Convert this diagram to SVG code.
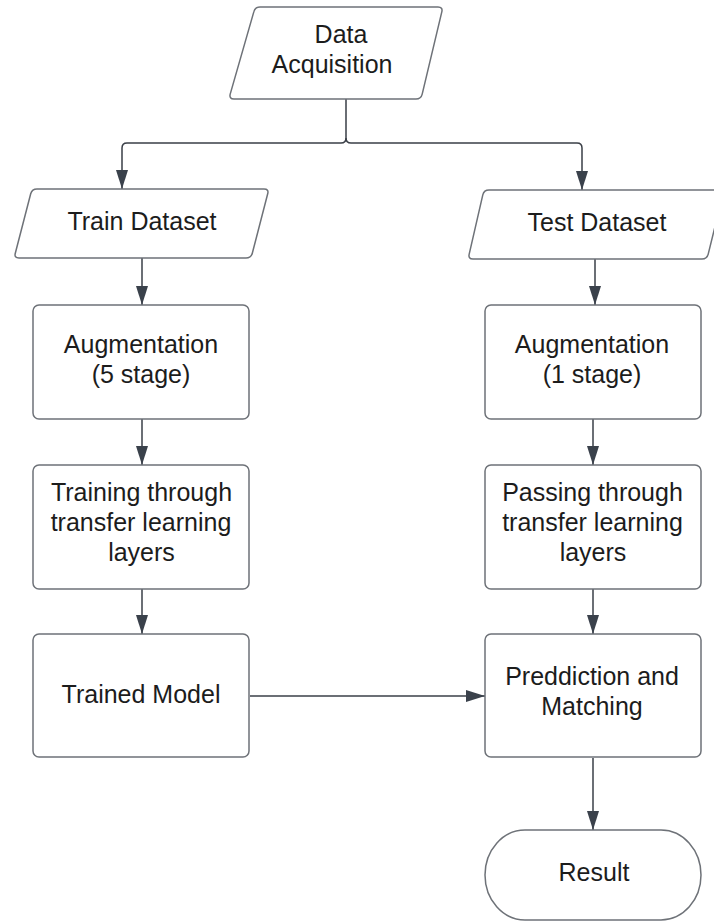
<svg xmlns="http://www.w3.org/2000/svg" width="714" height="922" viewBox="0 0 714 922">
<defs>
<style>
.shape{fill:#ffffff;stroke:#6e7278;stroke-width:1.5}
.conn{fill:none;stroke:#3a3f47;stroke-width:1.5}
.t{font-family:"Liberation Sans",Arial,sans-serif;font-size:25px;fill:#1c1c1c;text-anchor:middle}
</style>
<marker id="arr" viewBox="0 0 19 12" refX="19" refY="6" markerWidth="19" markerHeight="12" markerUnits="userSpaceOnUse" orient="auto">
<path d="M0,0 L19,6 L0,12 Z" fill="#3a414b"/>
</marker>
</defs>
<rect width="714" height="922" fill="#ffffff"/>
<g id="connectors">
<path class="conn" d="M346,99 L346,138 Q346,143 341,143 L127,143 Q122,143 122,148 L122,189" marker-end="url(#arr)"/>
<path class="conn" d="M346,138 Q346,143 351,143 L577,143 Q582,143 582,148 L582,190" marker-end="url(#arr)"/>
<path class="conn" d="M142,258 L142,305" marker-end="url(#arr)"/>
<path class="conn" d="M142,419 L142,465" marker-end="url(#arr)"/>
<path class="conn" d="M142,589 L142,634" marker-end="url(#arr)"/>
<path class="conn" d="M250,696 L485,696" marker-end="url(#arr)"/>
<path class="conn" d="M595,259 L595,305" marker-end="url(#arr)"/>
<path class="conn" d="M593,419 L593,465" marker-end="url(#arr)"/>
<path class="conn" d="M593,589 L593,634" marker-end="url(#arr)"/>
<path class="conn" d="M593,758 L593,830" marker-end="url(#arr)"/>
</g>
<g id="data-acquisition">
<path class="shape" d="M260,7 L438,7 Q443,7 441.8,11.9 L422.2,94.1 Q421,99 416,99 L234,99 Q229,99 230.2,94.1 L253.8,11.9 Q255,7 260,7 Z"/>
<text class="t" x="341" y="43">Data</text>
<text class="t" x="332" y="73">Acquisition</text>
</g>
<g id="train-dataset">
<path class="shape" d="M37,189 L264,189 Q269,189 267.7,193.8 L252.3,253.2 Q251,258 246,258 L19,258 Q14,258 15.3,253.2 L30.7,193.8 Q32,189 37,189 Z"/>
<text class="t" x="142" y="230">Train Dataset</text>
</g>
<g id="test-dataset">
<path class="shape" d="M489,190 L719,190 Q724,190 722.8,194.9 L708.2,254.1 Q707,259 702,259 L473,259 Q468,259 469.2,254.1 L482.8,194.9 Q484,190 489,190 Z"/>
<text class="t" x="597" y="231">Test Dataset</text>
</g>
<g id="augmentation-5">
<rect class="shape" x="33" y="305" width="216" height="114" rx="6"/>
<text class="t" x="141" y="353">Augmentation</text>
<text class="t" x="141" y="383">(5 stage)</text>
</g>
<g id="augmentation-1">
<rect class="shape" x="485" y="305" width="216" height="114" rx="6"/>
<text class="t" x="592" y="353">Augmentation</text>
<text class="t" x="592" y="383">(1 stage)</text>
</g>
<g id="training">
<rect class="shape" x="33" y="465" width="216" height="124" rx="6"/>
<text class="t" x="141.5" y="501">Training through</text>
<text class="t" x="141" y="531">transfer learning</text>
<text class="t" x="141.5" y="561">layers</text>
</g>
<g id="passing">
<rect class="shape" x="485" y="465" width="216" height="124" rx="6"/>
<text class="t" x="592.5" y="501">Passing through</text>
<text class="t" x="592.5" y="531">transfer learning</text>
<text class="t" x="593" y="561">layers</text>
</g>
<g id="trained-model">
<rect class="shape" x="33" y="634" width="216" height="123" rx="6"/>
<text class="t" x="141" y="703">Trained Model</text>
</g>
<g id="prediction">
<rect class="shape" x="485" y="634" width="216" height="123" rx="6"/>
<text class="t" x="592" y="685">Preddiction and</text>
<text class="t" x="592" y="715">Matching</text>
</g>
<g id="result">
<rect class="shape" x="485" y="830" width="216" height="90" rx="40" ry="45"/>
<text class="t" x="594" y="881">Result</text>
</g>
</svg>
